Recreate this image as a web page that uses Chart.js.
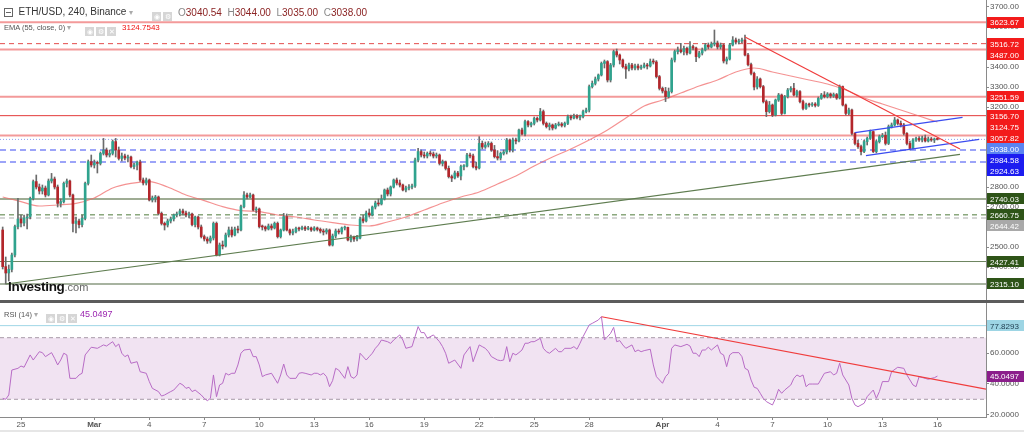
<!DOCTYPE html>
<html><head><meta charset="utf-8">
<script src="https://cdn.jsdelivr.net/npm/chart.js@4.4.1/dist/chart.umd.min.js"></script>
<style>
html,body{margin:0;padding:0;background:#fff;width:1024px;height:432px;overflow:hidden;font-family:"Liberation Sans",Arial,sans-serif;}
canvas{position:absolute;left:0;}
#c1{top:0;}
#c2{top:303px;}
.sep{position:absolute;left:0;top:300px;width:1024px;height:3px;background:#5c5c5c;}
.foot{position:absolute;left:0;top:430px;width:1024px;height:2px;background:#e6e6e6;}
.t{position:absolute;white-space:nowrap;line-height:1;}
.ic{display:inline-block;width:9px;height:9px;background:#d6d6d6;color:#fff;font-size:7px;line-height:9px;text-align:center;margin-right:2px;vertical-align:middle;}
.box{display:inline-block;width:7px;height:7px;border:1px solid #666;position:relative;vertical-align:middle;}
.box:after{content:"";position:absolute;left:1px;right:1px;top:3px;height:1px;background:#666;}
</style></head>
<body>
<canvas id="c1" width="1024" height="300"></canvas>
<div class="sep"></div>
<canvas id="c2" width="1024" height="129"></canvas>
<div class="foot"></div>

<div class="t" style="left:4px;top:7px;font-size:10px;color:#333;"><span class="box"></span>&nbsp; ETH/USD, 240, Binance <span style="color:#aaa;font-size:8px">▾</span></div>
<div class="t" style="left:152px;top:8px;"><span class="ic">◉</span><span class="ic">⚙</span></div>
<div class="t" id="ohlc" style="left:178px;top:8px;font-size:10px;"></div>
<div class="t" style="left:4px;top:24px;font-size:7.5px;color:#555;">EMA (55, close, 0) <span style="color:#aaa">▾</span></div>
<div class="t" style="left:85px;top:23px;"><span class="ic">◉</span><span class="ic">⚙</span><span class="ic">✕</span></div>
<div class="t" id="emaTxt" style="left:122px;top:24px;font-size:8px;color:#f01010;"></div>

<div class="t" style="left:8px;top:280px;font-size:13.5px;font-weight:bold;color:#111;letter-spacing:-0.3px;">Investing<span style="font-weight:normal;color:#666;font-size:11px;letter-spacing:0">.com</span></div>

<div class="t" style="left:4px;top:311px;font-size:7.5px;color:#555;">RSI (14) <span style="color:#aaa">▾</span></div>
<div class="t" style="left:46px;top:310px;"><span class="ic">◉</span><span class="ic">⚙</span><span class="ic">✕</span></div>
<div class="t" id="rsiTxt" style="left:80px;top:310px;font-size:9px;color:#9c27b0;"></div>

<script>
// ---------------- DATA ----------------
// 4h candles starting Feb 24 2022 00:00 (index i -> day i/6)
const opens = [
2585,2402,2370,2388,2460,2602,2640,2620,2645,2652,
2743,2827,2800,2780,2795,2760,2830,2840,2800,2718,
2727,2818,2830,2760,2618,2630,2612,2643,2818,2927,
2910,2920,2918,2968,2985,2960,2968,3027,2985,2943,
2955,2945,2950,2902,2910,2925,2835,2820,2835,2735,
2745,2750,2668,2618,2610,2630,2640,2660,2665,2680,
2670,2660,2665,2612,2650,2600,2552,2540,2530,2545,
2618,2460,2510,2505,2560,2585,2560,2590,2585,2702,
2760,2750,2760,2685,2690,2602,2600,2590,2605,2595,
2618,2552,2585,2652,2585,2570,2577,2593,2590,2597,
2590,2595,2585,2595,2588,2580,2575,2585,2510,2555,
2580,2575,2595,2598,2535,2550,2540,2545,2640,2630,
2670,2660,2700,2720,2715,2740,2785,2765,2800,2835,
2820,2810,2785,2795,2800,2805,2935,2977,2960,2955,
2968,2965,2955,2960,2918,2926,2893,2852,2845,2870,
2855,2902,2905,2960,2955,2902,2895,3018,3000,3010,
3018,2985,2952,2945,2968,2975,3035,2985,3035,3030,
3085,3065,3127,3110,3118,3143,3135,3177,3118,3102,
3110,3095,3110,3115,3108,3118,3152,3145,3155,3148,
3152,3177,3185,3302,3318,3340,3360,3418,3427,3335,
3410,3477,3460,3435,3402,3390,3410,3395,3405,3395,
3400,3410,3405,3427,3425,3352,3293,3280,3252,3277,
3435,3477,3485,3477,3493,3470,3502,3495,3452,3470,
3485,3510,3500,3515,3520,3500,3510,3430,3440,3510,
3535,3525,3530,3535,3460,3412,3368,3300,3340,3302,
3227,3177,3210,3160,3235,3260,3168,3252,3285,3293,
3260,3277,3227,3193,3212,3210,3215,3208,3243,3260,
3252,3265,3255,3262,3245,3302,3210,3168,3185,3068,
3018,3002,2977,3027,3043,3077,2977,3027,3052,3058,
3018,3102,3110,3135,3118,3110,3068,3018,2993,3035,
3043,3035,3045,3030,3040,3035,3040.54];
const highs = [
2600,2450,2410,2470,2610,2743,2660,2660,2665,2750,
2835,2860,2815,2810,2805,2840,2868,2850,2810,2740,
2825,2840,2835,2765,2650,2640,2660,2825,2935,2960,
2935,2930,2975,3043,2995,2985,3035,3043,3000,2970,
2965,2960,2955,2920,2930,2935,2845,2845,2840,2755,
2758,2755,2675,2625,2640,2650,2665,2675,2690,2690,
2680,2675,2670,2655,2655,2610,2560,2550,2555,2625,
2625,2520,2530,2570,2600,2600,2600,2605,2710,2777,
2770,2770,2765,2700,2695,2610,2605,2615,2615,2625,
2625,2590,2668,2665,2590,2590,2600,2600,2605,2605,
2603,2600,2602,2600,2595,2590,2592,2590,2565,2590,
2590,2600,2605,2600,2560,2555,2558,2650,2660,2680,
2690,2705,2730,2740,2760,2790,2795,2805,2840,2845,
2835,2815,2805,2812,2815,2945,2993,2985,2975,2975,
2980,2975,2970,2965,2935,2930,2905,2860,2880,2878,
2910,2912,2968,2970,2965,2925,3052,3030,3025,3027,
3025,3008,2982,2975,2985,3043,3040,3045,3045,3090,
3095,3135,3132,3125,3150,3150,3193,3185,3125,3120,
3115,3118,3125,3122,3125,3160,3160,3165,3162,3160,
3185,3195,3310,3330,3350,3365,3425,3435,3432,3418,
3485,3490,3465,3440,3415,3420,3418,3415,3415,3410,
3420,3418,3440,3440,3432,3358,3300,3298,3295,3445,
3485,3500,3518,3505,3500,3527,3510,3500,3478,3495,
3518,3520,3525,3585,3530,3520,3515,3450,3518,3552,
3545,3540,3545,3560,3468,3420,3375,3352,3345,3308,
3235,3228,3215,3240,3268,3265,3258,3293,3302,3318,
3285,3282,3235,3220,3220,3222,3222,3250,3268,3277,
3272,3270,3270,3268,3310,3305,3215,3195,3190,3072,
3035,3010,3035,3050,3085,3080,3035,3060,3068,3075,
3110,3120,3148,3140,3130,3118,3072,3030,3042,3050,
3052,3055,3060,3050,3048,3045,3044];
const lows = [
2390,2315,2330,2375,2450,2590,2600,2605,2590,2640,
2735,2790,2765,2765,2750,2755,2820,2790,2700,2700,
2720,2800,2750,2575,2570,2595,2600,2635,2810,2900,
2895,2870,2910,2960,2950,2950,2960,2950,2935,2930,
2935,2925,2895,2890,2885,2828,2810,2810,2730,2725,
2725,2660,2610,2585,2600,2620,2630,2650,2655,2660,
2650,2645,2605,2600,2590,2545,2530,2518,2520,2535,
2455,2455,2490,2500,2550,2550,2555,2570,2580,2695,
2740,2745,2680,2670,2595,2585,2580,2585,2585,2590,
2545,2545,2580,2580,2560,2560,2570,2580,2585,2582,
2585,2578,2580,2580,2570,2560,2565,2505,2505,2545,
2565,2565,2585,2530,2525,2528,2530,2540,2620,2625,
2650,2655,2690,2705,2710,2735,2755,2755,2795,2810,
2800,2780,2775,2785,2790,2798,2925,2950,2945,2945,
2955,2945,2945,2910,2905,2885,2845,2827,2840,2848,
2835,2885,2900,2945,2895,2885,2890,2990,2993,3000,
2978,2945,2935,2935,2960,2965,2975,2975,3015,3025,
3060,3055,3100,3100,3110,3125,3130,3110,3095,3085,
3085,3090,3105,3100,3100,3112,3135,3140,3140,3135,
3145,3170,3175,3295,3310,3330,3355,3395,3325,3325,
3400,3450,3415,3395,3343,3380,3385,3385,3385,3388,
3395,3390,3400,3415,3345,3285,3270,3227,3245,3270,
3425,3465,3470,3460,3460,3465,3485,3427,3445,3460,
3480,3490,3495,3505,3490,3490,3420,3415,3435,3505,
3515,3515,3520,3455,3405,3360,3285,3290,3295,3220,
3152,3170,3152,3155,3228,3160,3165,3245,3275,3255,
3250,3220,3185,3188,3200,3203,3200,3203,3238,3245,
3245,3245,3248,3238,3240,3205,3160,3160,3060,3010,
2993,2960,2972,3010,3038,2972,2970,3020,3045,3010,
3012,3095,3105,3110,3100,3060,3010,2985,2990,3028,
3028,3025,3025,3025,3028,3022,3035];
const closes = [
2402,2370,2388,2460,2602,2640,2620,2645,2650,2743,
2827,2800,2780,2795,2760,2830,2840,2800,2718,2727,
2818,2830,2760,2618,2630,2612,2643,2818,2927,2910,
2920,2918,2968,2985,2960,2968,3027,2985,2943,2955,
2945,2950,2902,2910,2925,2835,2820,2835,2735,2745,
2750,2668,2618,2610,2630,2640,2660,2665,2680,2670,
2660,2665,2612,2650,2600,2552,2540,2530,2545,2618,
2460,2510,2505,2560,2585,2560,2590,2585,2702,2760,
2750,2760,2685,2690,2602,2600,2590,2605,2595,2618,
2552,2585,2652,2585,2570,2577,2593,2590,2597,2590,
2595,2585,2595,2588,2580,2575,2585,2510,2555,2580,
2575,2595,2598,2535,2550,2540,2550,2640,2630,2670,
2660,2700,2720,2715,2740,2785,2765,2800,2835,2820,
2810,2785,2795,2800,2805,2935,2977,2960,2955,2968,
2965,2955,2960,2918,2926,2893,2852,2845,2870,2855,
2902,2905,2960,2955,2902,2895,3018,3000,3010,3018,
2985,2952,2945,2968,2975,3035,2985,3035,3030,3085,
3065,3127,3110,3118,3143,3135,3177,3118,3102,3110,
3095,3110,3115,3108,3118,3152,3145,3155,3148,3152,
3177,3185,3302,3318,3340,3360,3418,3427,3335,3410,
3477,3460,3435,3402,3390,3410,3395,3405,3395,3400,
3410,3405,3427,3425,3352,3293,3280,3252,3277,3435,
3477,3485,3477,3493,3470,3502,3495,3452,3470,3485,
3510,3500,3515,3520,3500,3510,3430,3440,3510,3535,
3525,3530,3535,3460,3412,3368,3300,3340,3302,3227,
3177,3210,3160,3235,3260,3168,3252,3285,3293,3260,
3277,3227,3193,3212,3210,3215,3208,3243,3260,3252,
3265,3255,3262,3245,3302,3210,3168,3185,3068,3018,
3002,2977,3027,3043,3077,2977,3027,3052,3058,3018,
3102,3110,3135,3118,3110,3068,3018,2993,3035,3043,
3035,3045,3030,3040,3035,3040,3038];

// EMA(55) read once per day (day offset from Feb 24 00:00)
const emaDays = [0,1,2,3,4,5,6,7,8,9,10,11,12,13,14,15,16,17,18,19,20,21,22,23,24,25,26,27,28,29,30,31,32,33,34,35,36,37,38,39,40,41,42,43,44,45,46,47,48,49,50,51];
const emaValues = [2750,2727,2705,2710,2718,2745,2795,2818,2827,2800,2760,2732,2702,2682,2677,2660,2650,2635,2622,2610,2605,2625,2650,2685,2720,2750,2775,2815,2855,2905,2950,2990,3035,3085,3145,3205,3235,3270,3305,3335,3375,3395,3375,3355,3335,3315,3285,3245,3215,3185,3155,3124.7543];

// Horizontal price levels and their axis labels
const levelValues = [3623.67,3516.72,3487.00,3251.59,3156.70,3057.82,3038.00,2984.58,2924.63,2740.03,2660.75,2644.42,2427.41,2315.10];
const emaLast = 3124.7543;

// Trendlines: [day, price] endpoints
const trendGreen = [[0.18,2315],[52.23,2963.5]];
const trendRed = [[40.5,3550],[52.23,2990]];
const channelUpper = [[46.50,3071.5],[52.37,3148.5]];
const channelLower = [[47.10,2956.5],[53.28,3038.5]];

// RSI(14): candle index -> value
const rsiIndex = [0,1,2,3,5,6,7,9,10,12,13,14,16,17,18,19,20,21,22,24,25,26,27,29,31,32,33,34,36,37,38,39,40,41,42,44,45,47,48,49,51,52,53,55,56,58,59,60,61,62,63,65,66,67,68,69,70,71,72,73,74,75,76,77,78,79,81,82,83,84,85,86,88,90,91,92,93,94,96,97,98,99,101,102,103,104,105,106,107,108,109,110,112,113,114,115,116,117,119,120,121,122,123,124,126,127,128,130,131,132,134,135,136,137,138,139,141,142,143,144,145,146,148,150,151,153,154,156,157,158,159,160,162,163,164,165,166,167,168,169,170,171,172,173,174,176,177,178,179,181,182,183,184,186,187,188,189,190,192,193,195,196,197,199,200,201,202,203,204,206,207,208,209,210,212,213,214,216,217,218,219,220,222,224,225,226,227,228,229,230,231,232,234,235,236,237,238,239,241,242,243,244,245,246,247,248,249,250,252,253,254,255,256,258,259,260,261,262,263,264,265,267,269,271,272,273,274,275,277,278,279,280,282,283,284,285,286,287,288,290,291,293,295,296,298,299,300,302,303,304,305,306];
const rsiValues = [30.6,30.0,32.8,49.0,50.1,51.6,50.8,58.8,55.5,60.9,60.3,57.7,60.3,56.6,52.3,55.5,59.9,58.8,43.6,43.6,45.8,46.9,58.8,63.8,63.1,64.2,65.3,64.6,67.4,64.2,65.9,59.9,57.7,58.8,53.4,54.4,47.9,46.9,41.5,37.1,35.0,32.1,32.8,35.0,36.0,40.4,39.3,37.1,37.8,35.0,36.0,32.8,30.6,29.1,30.6,45.8,31.7,39.3,40.4,46.9,45.8,46.9,46.9,52.3,59.9,62.0,62.5,57.7,57.7,52.3,44.7,45.8,46.9,40.4,45.8,52.9,45.8,43.6,43.6,46.9,47.3,46.9,45.8,46.9,46.9,45.8,46.9,44.7,38.2,42.1,50.1,49.0,43.6,51.2,44.7,43.6,45.8,59.9,55.5,57.7,59.9,63.1,65.3,68.5,67.4,66.3,68.5,71.8,68.5,63.1,64.2,70.7,77.2,73.3,73.3,69.6,71.8,69.6,67.4,64.2,59.9,53.4,55.5,50.1,58.8,64.2,54.4,65.3,64.2,63.1,60.9,57.7,55.5,55.1,55.5,64.2,54.4,59.9,58.8,60.3,62.0,66.4,66.4,67.4,67.4,69.6,63.1,60.9,59.9,63.1,60.9,60.9,63.1,63.1,64.2,62.5,66.4,70.7,78.3,79.3,81.5,83.7,68.5,72.8,76.7,67.4,68.1,65.3,63.1,65.3,60.9,62.0,60.9,61.6,62.5,52.3,44.7,40.4,44.7,46.9,63.1,65.3,64.2,65.7,64.6,59.9,59.9,57.7,62.0,62.0,63.8,62.0,65.3,59.9,58.8,51.2,58.8,60.3,60.3,57.7,50.1,49.0,42.5,37.8,37.1,33.9,30.6,28.5,26.3,30.6,36.5,33.9,36.0,39.3,43.6,45.8,44.7,45.8,38.2,39.9,39.9,39.9,46.9,47.9,45.8,46.9,53.4,45.8,39.3,30.6,26.3,25.2,27.4,31.7,33.9,36.0,30.6,35.0,41.5,41.5,47.9,50.8,50.1,45.8,39.3,38.2,44.7,43.6,43.0,43.6,44.0,45.0497];
const rsiMarker = 77.8293;
const rsiUpper = 70, rsiLower = 30;
const rsiTrend = [[32.68,83.6],[53.65,36.6]];

// Axis ticks
const priceTicks = [2300,2400,2500,2600,2700,2800,2900,3000,3100,3200,3300,3400,3500,3600,3700];
const rsiTicks = [20,40,60];
const dateTickDays = [1,5,8,11,14,17,20,23,26,29,32,36,39,42,45,48,51];
const dateTickLabels = ['25','Mar','4','7','10','13','16','19','22','25','28','Apr','4','7','10','13','16'];

// ---------------- STYLE ----------------
const FONT = '"Liberation Sans", Arial, Helvetica, sans-serif';
Chart.defaults.font.family = FONT;
const X_MIN = -0.146, X_MAX = 53.65;
const UP = '#2fa38e', DOWN = '#b3262b', WICK = '#6b6b6b';
const levelStyle = [
  {c:'#f39a9a',w:2,d:[]},{c:'#e44c4c',w:1,d:[5,4]},{c:'#f39a9a',w:2,d:[]},{c:'#f39a9a',w:2,d:[]},
  {c:'#e33a3a',w:1,d:[]},{c:'#f39a9a',w:2,d:[]},{c:'#8f9ff2',w:1,d:[1,2]},{c:'#7c86f6',w:1.5,d:[6,4]},
  {c:'#7c86f6',w:1.5,d:[6,4]},{c:'#7f9171',w:1.5,d:[]},{c:'#4f7a3a',w:1,d:[5,4]},{c:'#c8c8c8',w:1.5,d:[5,4]},
  {c:'#6d8560',w:1,d:[]},{c:'#8a9a80',w:1.5,d:[]}];
const labelStyle = {
  3623.67:'#f31b1b',3516.72:'#f31b1b',3487:'#f31b1b',3251.59:'#f31b1b',3156.7:'#f31b1b',3057.82:'#f31b1b',
  3038:'#5a84f2',2984.58:'#1c1cf0',2924.63:'#1c1cf0',2740.03:'#2e5418',2660.75:'#2e5418',2644.42:'#a9a9a9',
  2427.41:'#2e5418',2315.1:'#2e5418'};

// ---------------- HEADER TEXT ----------------
const n = closes.length - 1;
const fmt = v => Number(v).toFixed(2);
document.getElementById('ohlc').innerHTML =
  ['O','H','L','C'].map((k,j)=>'<span style="color:#888">'+k+'</span><span style="color:#8b2323">'+fmt([opens[n],highs[n],lows[n],closes[n]][j])+'</span>').join('&nbsp;&nbsp;');
document.getElementById('emaTxt').textContent = emaLast.toFixed(4);
document.getElementById('rsiTxt').textContent = rsiValues[rsiValues.length-1].toFixed(4);

// ---------------- MAIN CHART ----------------
const seg = (pts) => pts.map(p=>({x:p[0],y:p[1]}));
const lineDs = (data, color, width, dash, order) => ({type:'line', data, borderColor:color, borderWidth:width, borderDash:dash||[], pointRadius:0, fill:false, order, tension:0});

const datasets = [];
levelValues.forEach((v,k)=>{
  const s = levelStyle[k];
  datasets.push(lineDs([{x:X_MIN,y:v},{x:X_MAX,y:v}], s.c, s.w, s.d, 6));
});
datasets.push(Object.assign(lineDs(emaDays.map((d,k)=>({x:d,y:emaValues[k]})), 'rgba(240,110,110,0.75)', 1.2, [], 5), {cubicInterpolationMode:'monotone'}));
datasets.push(lineDs(seg(trendGreen), '#5e7c4f', 1.2, [], 1));
datasets.push(lineDs(seg(trendRed), '#f03c3c', 1.2, [], 1));
datasets.push(lineDs(seg(channelUpper), '#3b4cf0', 1.2, [], 1));
datasets.push(lineDs(seg(channelLower), '#3b4cf0', 1.2, [], 1));
datasets.push({type:'bar', data: lows.map((l,i)=>({x:i/6, y:[l, highs[i]]})), backgroundColor:WICK, barThickness:1, grouped:false, order:4});
datasets.push({type:'bar', data: opens.map((o,i)=>({x:i/6, y:[o, closes[i]]})), backgroundColor: c => closes[c.dataIndex] >= opens[c.dataIndex] ? UP : DOWN, barThickness:2, minBarLength:1, grouped:false, order:3});

const priceLabelPlugin = {
  id:'priceLabels',
  afterDraw(chart){
    const s = chart.scales.y, ctx = chart.ctx, L = chart.chartArea.right + 1;
    const vals = levelValues.concat([emaLast]);
    const items = vals.map(v=>({v, bg: labelStyle[v] || '#f31b1b', py: s.getPixelForValue(v)})).sort((a,b)=>a.py-b.py);
    let prev = -100;
    ctx.save();
    ctx.font = '8px ' + FONT; ctx.textBaseline = 'middle'; ctx.textAlign = 'left';
    items.forEach(it=>{
      const p = Math.max(it.py, prev + 11); prev = p;
      ctx.fillStyle = it.bg; ctx.fillRect(L, Math.round(p - 5.5), 1024 - L, 11);
      ctx.fillStyle = '#fff'; ctx.fillText(it.v.toFixed(2), L + 3, Math.round(p) + 0.5);
    });
    ctx.restore();
  }
};

new Chart(document.getElementById('c1'), {
  type:'bar',
  data:{datasets},
  options:{
    responsive:false, animation:false, devicePixelRatio:1, events:[],
    layout:{padding:0, autoPadding:false},
    plugins:{legend:{display:false}, tooltip:{enabled:false}},
    scales:{
      x:{type:'linear', min:X_MIN, max:X_MAX, offset:false, display:false},
      y:{position:'right', min:2235, max:3735,
         afterBuildTicks: s => { s.ticks = priceTicks.map(v=>({value:v})); },
         afterFit: s => { s.width = 38; s.paddingTop = 0; s.paddingBottom = 0; },
         grid:{drawOnChartArea:false, drawTicks:true, tickLength:3, color:'#8a8a8a'},
         border:{display:true, color:'#8a8a8a'},
         ticks:{color:'#555', padding:1, font:{size:8, family:FONT}, callback: v => Number(v).toFixed(2)}}
    }
  },
  plugins:[priceLabelPlugin]
});

// ---------------- RSI CHART ----------------
const rsiDatasets = [
  {type:'line', data:[{x:X_MIN,y:rsiUpper},{x:X_MAX,y:rsiUpper}], borderColor:'#a89aa8', borderWidth:1, borderDash:[4,3], pointRadius:0, fill:'+1', backgroundColor:'#f1e3f2', order:5},
  {type:'line', data:[{x:X_MIN,y:rsiLower},{x:X_MAX,y:rsiLower}], borderColor:'#a89aa8', borderWidth:1, borderDash:[4,3], pointRadius:0, fill:false, order:4},
  {type:'line', data:[{x:X_MIN,y:rsiMarker},{x:X_MAX,y:rsiMarker}], borderColor:'#9fd6e6', borderWidth:1, pointRadius:0, fill:false, order:3},
  {type:'line', data: rsiIndex.map((i,k)=>({x:i/6, y:rsiValues[k]})), borderColor:'#b86cc6', borderWidth:1, pointRadius:0, fill:false, order:2, tension:0},
  {type:'line', data: seg(rsiTrend), borderColor:'#f03c3c', borderWidth:1.2, pointRadius:0, fill:false, order:1}
];

const rsiLabelPlugin = {
  id:'rsiLabels',
  afterDraw(chart){
    const s = chart.scales.y, ctx = chart.ctx, L = chart.chartArea.right + 1;
    const items = [
      {v:rsiMarker, bg:'#9dd5e4', fg:'#1d3b4d'},
      {v:rsiValues[rsiValues.length-1], bg:'#8b1e8b', fg:'#fff'}];
    ctx.save();
    ctx.font = '8px ' + FONT; ctx.textBaseline = 'middle'; ctx.textAlign = 'left';
    items.forEach(it=>{
      const p = s.getPixelForValue(it.v);
      ctx.fillStyle = it.bg; ctx.fillRect(L, Math.round(p - 5.5), 1024 - L, 11);
      ctx.fillStyle = it.fg; ctx.fillText(it.v.toFixed(4), L + 3, Math.round(p) + 0.5);
    });
    ctx.restore();
  }
};

new Chart(document.getElementById('c2'), {
  type:'line',
  data:{datasets: rsiDatasets},
  options:{
    responsive:false, animation:false, devicePixelRatio:1, events:[],
    layout:{padding:0, autoPadding:false},
    plugins:{legend:{display:false}, tooltip:{enabled:false}, filler:{propagate:false}},
    scales:{
      x:{type:'linear', min:X_MIN, max:X_MAX, offset:false,
         afterBuildTicks: s => { s.ticks = dateTickDays.map(v=>({value:v})); },
         afterFit: s => { s.height = 15; s.paddingLeft = 0; s.paddingRight = 0; },
         grid:{drawOnChartArea:false, drawTicks:true, tickLength:3, color:'#8a8a8a'},
         border:{display:true, color:'#8a8a8a'},
         ticks:{autoSkip:false, maxRotation:0, padding:0, color:'#555',
                font: c => ({size:8, family:FONT, weight: (c.tick && (c.tick.value===5 || c.tick.value===36)) ? 'bold' : 'normal'}),
                callback: (v) => { const k = dateTickDays.indexOf(v); return k >= 0 ? dateTickLabels[k] : ''; }}},
      y:{position:'right', min:18.5, max:92.53,
         afterBuildTicks: s => { s.ticks = rsiTicks.map(v=>({value:v})); },
         afterFit: s => { s.width = 38; s.paddingTop = 0; s.paddingBottom = 0; },
         grid:{drawOnChartArea:false, drawTicks:true, tickLength:3, color:'#8a8a8a'},
         border:{display:true, color:'#8a8a8a'},
         ticks:{color:'#555', padding:1, font:{size:8, family:FONT}, callback: v => Number(v).toFixed(4)}}
    }
  },
  plugins:[rsiLabelPlugin]
});
</script>
</body></html>
